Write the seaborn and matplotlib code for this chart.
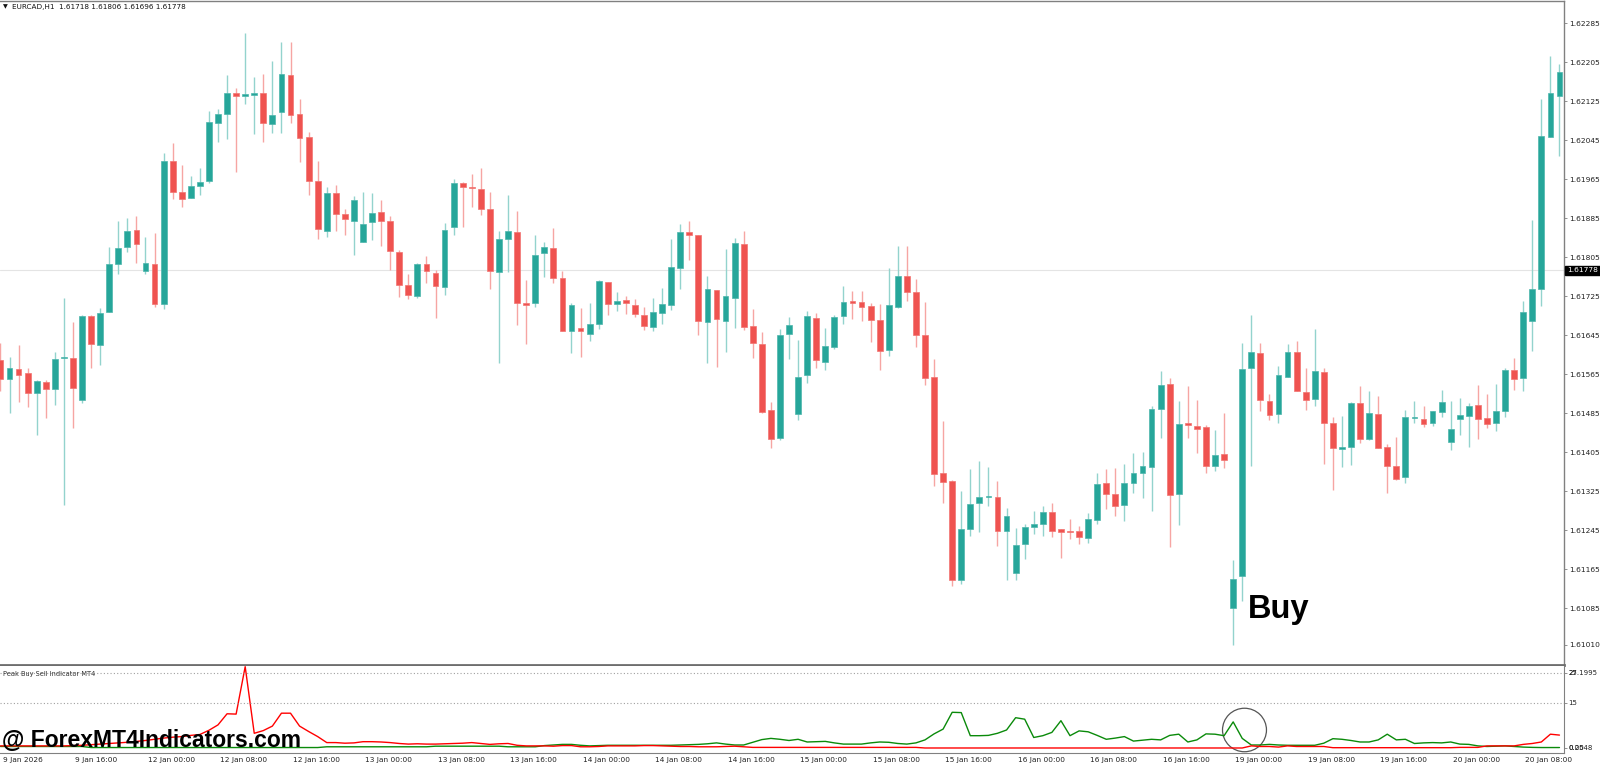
import numpy as np
import pandas as pd
import seaborn as sns
import matplotlib.pyplot as plt
from matplotlib.patches import Ellipse
from matplotlib.transforms import blended_transform_factory

# EURCAD H1 candles, 9 Jan 08:00 -> 20 Jan 12:00 (one value per bar)
opens = [
    1.61594, 1.61555, 1.61575, 1.61567, 1.61526, 1.61550, 1.61535, 1.61599, 1.61598, 1.61512,
    1.61685, 1.61625, 1.61692, 1.61791, 1.61826, 1.61861, 1.61777, 1.61791, 1.61709, 1.62003,
    1.61938, 1.61926, 1.61952, 1.61962, 1.62081, 1.62098, 1.62143, 1.62135, 1.62137, 1.62141,
    1.62079, 1.62103, 1.62178, 1.62098, 1.62051, 1.61962, 1.61858, 1.61937, 1.61894, 1.61880,
    1.61837, 1.61878, 1.61897, 1.61879, 1.61815, 1.61748, 1.61726, 1.61791, 1.61773, 1.61745,
    1.61867, 1.61958, 1.61949, 1.61945, 1.61904, 1.61774, 1.61843, 1.61856, 1.61711, 1.61711,
    1.61813, 1.61825, 1.61763, 1.61654, 1.61661, 1.61647, 1.61669, 1.61754, 1.61709, 1.61717,
    1.61708, 1.61687, 1.61662, 1.61691, 1.61708, 1.61784, 1.61857, 1.61851, 1.61673, 1.61739,
    1.61675, 1.61721, 1.61832, 1.61664, 1.61628, 1.61491, 1.61434, 1.61647, 1.61484, 1.61564,
    1.61681, 1.61590, 1.61622, 1.61685, 1.61716, 1.61714, 1.61705, 1.61677, 1.61614, 1.61704,
    1.61767, 1.61734, 1.61645, 1.61560, 1.61362, 1.61346, 1.61143, 1.61248, 1.61301, 1.61313,
    1.61313, 1.61244, 1.61158, 1.61217, 1.61251, 1.61258, 1.61282, 1.61248, 1.61244, 1.61244,
    1.61229, 1.61266, 1.61342, 1.61319, 1.61297, 1.61342, 1.61363, 1.61376, 1.61493, 1.61545,
    1.61319, 1.61465, 1.61460, 1.61456, 1.61377, 1.61402, 1.61085, 1.61152, 1.61577, 1.61608,
    1.61510, 1.61484, 1.61560, 1.61611, 1.61528, 1.61515, 1.61569, 1.61466, 1.61411, 1.61417,
    1.61506, 1.61432, 1.61483, 1.61415, 1.61377, 1.61354, 1.61476, 1.61473, 1.61465, 1.61487,
    1.61426, 1.61474, 1.61480, 1.61502, 1.61476, 1.61465, 1.61490, 1.61573, 1.61557, 1.61675,
    1.61741, 1.62052, 1.62136,
]
highs = [
    1.61629, 1.61600, 1.61625, 1.61579, 1.61553, 1.61553, 1.61610, 1.61722, 1.61673, 1.61687,
    1.61687, 1.61702, 1.61826, 1.61880, 1.61885, 1.61890, 1.61846, 1.61854, 1.62018, 1.62040,
    1.61994, 1.61972, 1.61988, 1.62106, 1.62109, 1.62179, 1.62152, 1.62266, 1.62174, 1.62182,
    1.62208, 1.62247, 1.62247, 1.62130, 1.62063, 1.62003, 1.61950, 1.61953, 1.61905, 1.61931,
    1.61938, 1.61937, 1.61923, 1.61890, 1.61820, 1.61771, 1.61793, 1.61808, 1.61779, 1.61875,
    1.61966, 1.61960, 1.61976, 1.61988, 1.61938, 1.61859, 1.61933, 1.61899, 1.61759, 1.61851,
    1.61837, 1.61865, 1.61776, 1.61711, 1.61702, 1.61711, 1.61759, 1.61754, 1.61733, 1.61726,
    1.61720, 1.61704, 1.61722, 1.61743, 1.61843, 1.61873, 1.61880, 1.61851, 1.61767, 1.61739,
    1.61822, 1.61844, 1.61858, 1.61700, 1.61651, 1.61509, 1.61658, 1.61682, 1.61636, 1.61695,
    1.61690, 1.61661, 1.61687, 1.61747, 1.61735, 1.61736, 1.61711, 1.61709, 1.61783, 1.61829,
    1.61828, 1.61760, 1.61714, 1.61597, 1.61469, 1.61348, 1.61326, 1.61370, 1.61387, 1.61374,
    1.61347, 1.61290, 1.61249, 1.61259, 1.61285, 1.61295, 1.61302, 1.61248, 1.61268, 1.61253,
    1.61280, 1.61362, 1.61371, 1.61372, 1.61381, 1.61403, 1.61406, 1.61500, 1.61572, 1.61557,
    1.61510, 1.61541, 1.61512, 1.61461, 1.61451, 1.61486, 1.61184, 1.61629, 1.61687, 1.61629,
    1.61524, 1.61582, 1.61627, 1.61633, 1.61579, 1.61659, 1.61579, 1.61478, 1.61480, 1.61509,
    1.61541, 1.61531, 1.61521, 1.61422, 1.61436, 1.61492, 1.61510, 1.61500, 1.61490, 1.61532,
    1.61510, 1.61516, 1.61506, 1.61543, 1.61525, 1.61545, 1.61577, 1.61599, 1.61716, 1.61882,
    1.62129, 1.62217, 1.62202,
]
lows = [
    1.61530, 1.61485, 1.61509, 1.61499, 1.61441, 1.61475, 1.61502, 1.61297, 1.61454, 1.61506,
    1.61579, 1.61584, 1.61692, 1.61770, 1.61815, 1.61794, 1.61770, 1.61704, 1.61700, 1.61924,
    1.61909, 1.61926, 1.61932, 1.61958, 1.62041, 1.62047, 1.61981, 1.62120, 1.62058, 1.62042,
    1.62061, 1.62061, 1.62081, 1.62000, 1.61932, 1.61842, 1.61847, 1.61859, 1.61850, 1.61810,
    1.61837, 1.61841, 1.61829, 1.61780, 1.61724, 1.61719, 1.61721, 1.61753, 1.61680, 1.61728,
    1.61850, 1.61867, 1.61909, 1.61891, 1.61741, 1.61588, 1.61774, 1.61666, 1.61627, 1.61704,
    1.61765, 1.61753, 1.61653, 1.61608, 1.61600, 1.61634, 1.61657, 1.61687, 1.61695, 1.61688,
    1.61682, 1.61656, 1.61653, 1.61668, 1.61696, 1.61741, 1.61800, 1.61646, 1.61588, 1.61581,
    1.61610, 1.61661, 1.61656, 1.61599, 1.61485, 1.61413, 1.61430, 1.61597, 1.61471, 1.61548,
    1.61579, 1.61574, 1.61617, 1.61668, 1.61678, 1.61675, 1.61631, 1.61574, 1.61603, 1.61702,
    1.61716, 1.61622, 1.61543, 1.61337, 1.61301, 1.61131, 1.61136, 1.61234, 1.61241, 1.61296,
    1.61212, 1.61143, 1.61143, 1.61186, 1.61238, 1.61234, 1.61232, 1.61188, 1.61227, 1.61218,
    1.61220, 1.61259, 1.61289, 1.61275, 1.61265, 1.61321, 1.61312, 1.61285, 1.61435, 1.61210,
    1.61256, 1.61435, 1.61403, 1.61363, 1.61367, 1.61372, 1.61009, 1.61101, 1.61378, 1.61489,
    1.61471, 1.61465, 1.61559, 1.61530, 1.61492, 1.61500, 1.61381, 1.61328, 1.61374, 1.61379,
    1.61424, 1.61430, 1.61413, 1.61322, 1.61348, 1.61342, 1.61466, 1.61456, 1.61460, 1.61478,
    1.61409, 1.61441, 1.61415, 1.61432, 1.61454, 1.61448, 1.61478, 1.61533, 1.61530, 1.61612,
    1.61706, 1.62052, 1.62012,
]
closes = [
    1.61555, 1.61579, 1.61564, 1.61527, 1.61551, 1.61534, 1.61596, 1.61601, 1.61538, 1.61685,
    1.61627, 1.61690, 1.61791, 1.61824, 1.61858, 1.61832, 1.61794, 1.61709, 1.62003, 1.61940,
    1.61924, 1.61952, 1.61960, 1.62082, 1.62099, 1.62143, 1.62135, 1.62139, 1.62143, 1.62081,
    1.62096, 1.62180, 1.62097, 1.62049, 1.61962, 1.61863, 1.61936, 1.61894, 1.61883, 1.61923,
    1.61873, 1.61895, 1.61880, 1.61817, 1.61748, 1.61728, 1.61792, 1.61776, 1.61746, 1.61862,
    1.61957, 1.61950, 1.61947, 1.61904, 1.61776, 1.61843, 1.61858, 1.61711, 1.61708, 1.61810,
    1.61826, 1.61763, 1.61654, 1.61707, 1.61654, 1.61668, 1.61756, 1.61709, 1.61716, 1.61711,
    1.61689, 1.61665, 1.61692, 1.61709, 1.61786, 1.61856, 1.61851, 1.61674, 1.61741, 1.61678,
    1.61725, 1.61834, 1.61663, 1.61629, 1.61487, 1.61432, 1.61646, 1.61666, 1.61560, 1.61685,
    1.61595, 1.61623, 1.61683, 1.61714, 1.61712, 1.61704, 1.61676, 1.61613, 1.61707, 1.61766,
    1.61734, 1.61646, 1.61557, 1.61361, 1.61344, 1.61143, 1.61247, 1.61299, 1.61313, 1.61315,
    1.61244, 1.61275, 1.61216, 1.61251, 1.61258, 1.61282, 1.61244, 1.61242, 1.61242, 1.61231,
    1.61268, 1.61340, 1.61320, 1.61294, 1.61342, 1.61362, 1.61377, 1.61493, 1.61543, 1.61318,
    1.61463, 1.61461, 1.61453, 1.61377, 1.61400, 1.61389, 1.61145, 1.61575, 1.61610, 1.61512,
    1.61482, 1.61563, 1.61610, 1.61531, 1.61512, 1.61572, 1.61466, 1.61413, 1.61417, 1.61507,
    1.61432, 1.61486, 1.61413, 1.61378, 1.61350, 1.61478, 1.61478, 1.61464, 1.61489, 1.61508,
    1.61452, 1.61482, 1.61500, 1.61474, 1.61464, 1.61489, 1.61574, 1.61556, 1.61692, 1.61741,
    1.62053, 1.62141, 1.62185,
]

# Peak Buy Sell indicator buffers
sell_line = [
    0.8, 0.8, 0.8, 0.8, 0.8, 0.8, 0.8, 0.8, 0.9, 1.0,
    1.2, 1.4, 1.6, 1.8, 2.0, 2.3, 2.6, 3.0, 3.4, 3.7,
    3.9, 4.3, 4.6, 6.0, 7.8, 11.5, 11.4, 27.2, 5.0, 5.9,
    7.4, 11.7, 11.7, 7.4, 5.6, 3.9, 1.9, 1.9, 1.7, 1.8,
    2.2, 2.2, 2.1, 1.9, 1.6, 1.4, 1.5, 1.4, 1.4, 1.5,
    1.6, 1.7, 1.9, 1.6, 1.3, 1.5, 1.6, 1.0, 0.8, 0.8,
    0.8, 0.7, 0.9, 0.9, 0.5, 0.5, 0.6, 0.8, 0.8, 0.8,
    0.8, 0.9, 0.9, 0.8, 0.7, 0.6, 0.6, 0.5, 0.5, 0.5,
    0.6, 0.7, 0.5, 0.3, 0.3, 0.3, 0.3, 0.3, 0.3, 0.3,
    0.3, 0.3, 0.3, 0.3, 0.3, 0.3, 0.3, 0.3, 0.3, 0.3,
    0.3, 0.3, 0.1, 0.1, 0.1, 0.1, 0.1, 0.1, 0.1, 0.1,
    0.1, 0.1, 0.1, 0.1, 0.1, 0.1, 0.1, 0.1, 0.1, 0.1,
    0.1, 0.1, 0.1, 0.1, 0.1, 0.1, 0.1, 0.1, 0.1, 0.1,
    0.1, 0.1, 0.1, 0.1, 0.1, 0.1, 0.1, 0.1, 0.8, 0.6,
    0.6, 0.4, 0.8, 0.6, 0.6, 0.6, 0.6, 0.2, 0.2, 0.2,
    0.2, 0.2, 0.2, 0.2, 0.2, 0.2, 0.2, 0.2, 0.2, 0.2,
    0.2, 0.3, 0.3, 0.3, 0.8, 0.8, 0.8, 0.8, 1.3, 1.6,
    2.1, 4.7, 4.4,
]
buy_line = [
    0.6, 0.6, 0.6, 0.6, 0.6, 0.6, 0.6, 0.6, 0.6, 0.6,
    0.25, 0.25, 0.25, 0.25, 0.25, 0.25, 0.25, 0.25, 0.25, 0.25,
    0.25, 0.25, 0.25, 0.25, 0.25, 0.25, 0.25, 0.25, 0.25, 0.25,
    0.25, 0.25, 0.25, 0.25, 0.25, 0.25, 0.5, 0.5, 0.5, 0.5,
    0.5, 0.5, 0.5, 0.5, 0.5, 0.5, 0.5, 0.5, 0.7, 0.7,
    0.7, 0.7, 0.7, 0.7, 0.7, 0.7, 0.5, 0.5, 0.5, 0.5,
    0.9, 1.1, 1.3, 1.3, 1.0, 0.8, 0.9, 1.0, 1.0, 1.0,
    1.0, 1.0, 1.0, 1.0, 1.0, 1.1, 1.2, 1.3, 1.5, 1.8,
    1.4, 1.1, 1.1, 2.0, 2.9, 3.3, 3.0, 2.6, 3.0, 2.1,
    2.2, 2.3, 1.8, 1.4, 1.4, 1.4, 1.8, 2.1, 2.0, 1.6,
    1.4, 1.8, 2.8, 4.8, 6.4, 12.0, 11.9, 4.2, 4.2, 4.3,
    5.0, 6.1, 10.2, 9.7, 3.6, 4.2, 5.3, 9.2, 4.2, 5.8,
    5.5, 4.3, 3.0, 3.4, 3.9, 2.4, 2.7, 3.0, 2.8, 4.3,
    4.7, 2.1, 2.8, 4.8, 4.7, 4.2, 8.8, 3.3, 1.1, 1.1,
    1.3, 1.1, 1.0, 1.0, 1.0, 1.0, 1.7, 3.2, 3.0, 2.6,
    2.1, 2.1, 2.8, 4.7, 2.8, 3.0, 1.6, 1.8, 1.9, 1.8,
    2.1, 1.4, 1.3, 0.8, 0.6, 0.7, 0.8, 0.6, 0.4, 0.3,
    0.25, 0.25, 0.25,
]

time_labels = [
    "9 Jan 2026", "9 Jan 16:00", "12 Jan 00:00", "12 Jan 08:00", "12 Jan 16:00",
    "13 Jan 00:00", "13 Jan 08:00", "13 Jan 16:00", "14 Jan 00:00", "14 Jan 08:00",
    "14 Jan 16:00", "15 Jan 00:00", "15 Jan 08:00", "15 Jan 16:00", "16 Jan 00:00",
    "16 Jan 08:00", "16 Jan 16:00", "19 Jan 00:00", "19 Jan 08:00", "19 Jan 16:00",
    "20 Jan 00:00", "20 Jan 08:00",
]
price_ticks = [1.62285, 1.62205, 1.62125, 1.62045, 1.61965, 1.61885, 1.61805, 1.61725,
               1.61645, 1.61565, 1.61485, 1.61405, 1.61325, 1.61245, 1.61165, 1.61085, 1.61010]
current_price = 1.61778
header = "EURCAD,H1  1.61718 1.61806 1.61696 1.61778"
osc_levels = [15, 25]

BULL, BEAR = "#26A69A", "#EF5350"
BULL_WICK, BEAR_WICK = "#93D3CD", "#F6A5A3"
BULL_EDGE, BEAR_EDGE = "#4DB6AC", "#F27471"
GRID = "#808080"

W, H = 1600, 767
sns.set_style("white")
plt.rcParams['font.family'] = ['DejaVu Sans']

fig = plt.figure(figsize=(W / 100, H / 100), dpi=100)
ax = fig.add_axes([0, 1 - 665 / H, 1564 / W, 664 / H])
axi = fig.add_axes([0, 1 - 753 / H, 1564 / W, 87 / H])

o = np.array(opens)
h = np.array(highs)
l = np.array(lows)
c = np.array(closes)
x = np.arange(len(c))
up = c >= o

# candles
ax.axhline(current_price, color="#E4E4E4", lw=0.8, zorder=1)
ax.vlines(x, np.minimum(l, np.minimum(o, c)), np.maximum(h, np.maximum(o, c)),
          colors=np.where(up, BULL_WICK, BEAR_WICK), lw=1.0, zorder=2)
body = np.maximum(np.abs(c - o), 0.000025)
ax.bar(x, body, bottom=np.minimum(o, c), width=0.64,
       color=np.where(up, BULL, BEAR), edgecolor=np.where(up, BULL_EDGE, BEAR_EDGE),
       linewidth=0.5, zorder=3)

ax.set_xlim(-0.05, 172.5)
ax.set_ylim(1.609689, 1.623307)
ax.set_xticks([])
ax.yaxis.tick_right()
ax.set_yticks(price_ticks)
ax.set_yticklabels([f"{p:.5f}" for p in price_ticks])
ax.tick_params(axis="y", direction="out", length=2.5, width=0.6, color=GRID,
               labelcolor="#222222", labelsize=5.4, pad=1.5)
ax.spines["left"].set_visible(False)
ax.spines["top"].set_color(GRID)
ax.spines["top"].set_linewidth(1.0)
ax.spines["right"].set_color(GRID)
ax.spines["right"].set_linewidth(1.0)
ax.spines["bottom"].set_color("#6E6E6E")
ax.spines["bottom"].set_linewidth(2.0)

trans = blended_transform_factory(ax.transAxes, ax.transData)
ax.text(1.002, current_price, "1.61778", transform=trans, ha="left", va="center",
        fontsize=5.4, color="white",
        bbox=dict(boxstyle="square,pad=0.25", fc="black", ec="black"), clip_on=False)

# indicator panel
df = pd.DataFrame({
    "bar": np.concatenate([x, x]),
    "value": buy_line + sell_line,
    "series": ["buy"] * len(buy_line) + ["sell"] * len(sell_line),
})
sns.lineplot(data=df, x="bar", y="value", hue="series",
             palette={"buy": "#0A8A0A", "sell": "#FF0000"},
             legend=False, ax=axi, linewidth=1.0)
for lv in osc_levels:
    axi.axhline(lv, color="#A0A0A0", lw=0.8, ls=(0, (1, 2)))
axi.add_patch(Ellipse((137.25, 6.1), 4.85, 14.5, fill=False, ec="#555555", lw=0.9))

axi.set_xlim(-0.05, 172.5)
axi.set_ylim(-1.57, 27.43)
axi.set_xlabel("")
axi.set_ylabel("")
axi.yaxis.tick_right()
axi.set_yticks([0.2548, 15, 25])
axi.set_yticklabels(["", "", ""])
axi.tick_params(axis="y", direction="out", length=2.5, width=0.6, color=GRID)
label_pos = list(range(0, len(c), 8))
axi.set_xticks(label_pos)
axi.set_xticklabels([])
axi.tick_params(axis="x", direction="out", length=3, width=0.6, color=GRID)
axi.spines["left"].set_visible(False)
axi.spines["top"].set_visible(False)
axi.spines["right"].set_color(GRID)
axi.spines["bottom"].set_color(GRID)
axi.spines["bottom"].set_linewidth(0.8)

tx = blended_transform_factory(axi.transData, axi.transAxes)
for pos, lab in zip(label_pos, time_labels):
    axi.text(pos + 0.25, -0.085, lab, transform=tx, ha="left", va="center",
             fontsize=5.3, color="#222222", clip_on=False)

# MT4 prints the max/min labels over the level labels
ty = blended_transform_factory(axi.transAxes, axi.transData)
for val, lab in [(25.0, "25"), (25.2, "27.1995"), (15, "15"), (0.2548, "0.00"), (0.2548, "0.2548")]:
    axi.text(1.003, val, lab, transform=ty, ha="left", va="center",
             fontsize=5.0, color="#222222", clip_on=False)

# header and overlay texts (pixel positions)
fig.text(3 / W, 1 - 7 / H, "\u25bc", fontsize=4.5, color="#111111", ha="left", va="center")
fig.text(12 / W, 1 - 7 / H, header, fontsize=5.2, color="#111111", ha="left", va="center")
fig.text(3 / W, 1 - 674 / H, "Peak Buy Sell Indicator MT4", fontsize=4.8,
         color="#333333", ha="left", va="center")
fig.text(2 / W, 1 - 747 / H, "@ ForexMT4Indicators.com", family=["Liberation Sans", "DejaVu Sans"],
         fontsize=16.5, fontweight="bold", color="black", ha="left", va="baseline")
fig.text(1248 / W, 1 - 618 / H, "Buy", family=["Liberation Sans", "DejaVu Sans"],
         fontsize=23.5, fontweight="bold", color="black", ha="left", va="baseline")

fig.savefig("out.png", dpi=100)
